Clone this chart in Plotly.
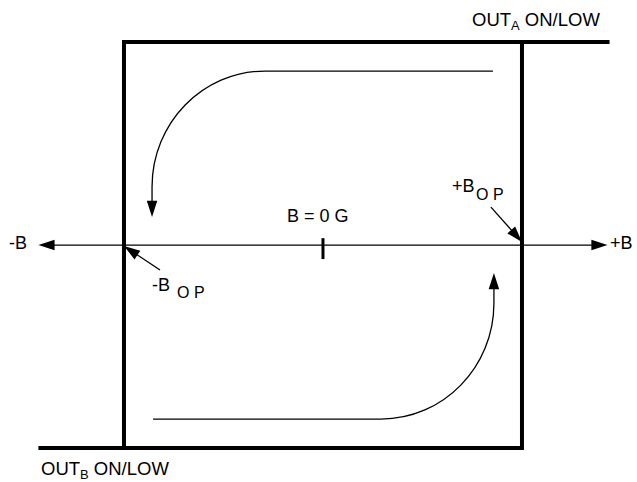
import plotly.graph_objects as go

# hysteresis of a latching hall switch, B in units of B_OP
b_op = [-1.0, 1.0]
b_axis = [-1.43, 1.43]
out_a_x = [-1.0, -1.0, 1.44]
out_a_y = [-1.0, 1.0, 1.0]
out_b_x = [-1.43, 1.0, 1.0]
out_b_y = [-1.0, -1.0, 1.0]

# sweep arrows (upper: decreasing B, lower: increasing B)
sweep_start = [0.854, 0.857]
sweep_bend = [-0.291, 0.286]
sweep_radius = [0.568, 0.571]
sweep_tip = 0.138

K = 0.5523
BLACK = "#000000"
FONT = "Liberation Sans, Arial, sans-serif"

fig = go.Figure()

# output lines
for xs, ys in [(out_a_x, out_a_y), (out_b_x, out_b_y)]:
    fig.add_trace(go.Scatter(x=xs, y=ys, mode="lines",
                             line=dict(color=BLACK, width=4)))

# B axis with arrows both ways
for end in b_axis:
    fig.add_trace(go.Scatter(x=[0, end], y=[0, 0], mode="lines+markers",
                             line=dict(color=BLACK, width=1.3),
                             marker=dict(symbol="arrow", size=17, color=BLACK,
                                         angleref="previous",
                                         line=dict(width=0))))

# B = 0 tick
fig.add_trace(go.Scatter(x=[0, 0], y=[0.034, -0.069], mode="lines",
                         line=dict(color=BLACK, width=3)))

# pointers to the switching points
pointers = [([-0.819, b_op[0]], [-0.123, -0.005]),
            ([0.844, b_op[1]], [0.187, 0.015])]
for xs, ys in pointers:
    fig.add_trace(go.Scatter(x=xs, y=ys, mode="lines+markers",
                             line=dict(color=BLACK, width=1.3),
                             marker=dict(symbol="arrow", size=17, color=BLACK,
                                         angleref="previous",
                                         line=dict(width=0))))

# curved sweep arrows, lower one is the mirror of the upper one
for s in [1, -1]:
    x0, y0 = s * sweep_start[0], s * sweep_start[1]
    cx, cy = s * sweep_bend[0], s * sweep_bend[1]
    rx, ry = s * sweep_radius[0], s * sweep_radius[1]
    ex, ey = cx - rx, cy
    path = (f"M{x0},{y0} L{cx},{y0} "
            f"C{cx - K * rx},{y0} {ex},{cy + K * ry} {ex},{ey} "
            f"L{ex},{s * (sweep_tip + 0.05)}")
    fig.add_shape(type="path", path=path, xref="x", yref="y",
                  line=dict(color=BLACK, width=1.3))
    fig.add_trace(go.Scatter(x=[ex], y=[s * sweep_tip], mode="markers",
                             marker=dict(symbol="arrow", size=17, color=BLACK,
                                         angle=180 if s > 0 else 0,
                                         line=dict(width=0))))

labels = [
    ("OUT<sub>A</sub> ON/LOW", 0.741, 1.105, "left", 18.5),
    ("OUT<sub>B</sub> ON/LOW", -1.427, -1.106, "left", 18.5),
    ("-B", -1.475, 0.01, "right", 18),
    ("+B", 1.43, 0.01, "left", 18),
    ("B = 0 G", -0.025, 0.143, "center", 18),
    ("-B", -0.869, -0.195, "left", 18),
    ("+B", 0.638, 0.291, "left", 18),
]
for text, x, y, anchor, size in labels:
    fig.add_annotation(x=x, y=y, text=text, showarrow=False, xanchor=anchor,
                       yanchor="middle", font=dict(size=size, color=BLACK, family=FONT))
for x, y in [(-0.744, -0.236), (0.759, 0.251)]:
    fig.add_annotation(x=x, y=y, text="O P", showarrow=False, xanchor="left",
                       yanchor="middle", font=dict(size=16, color=BLACK, family=FONT))

fig.update_layout(
    width=637, height=482,
    margin=dict(l=0, r=0, t=0, b=0),
    paper_bgcolor="white", plot_bgcolor="white",
    showlegend=False,
    xaxis=dict(range=[-1.623, 1.578], visible=False, fixedrange=True),
    yaxis=dict(range=[-1.167, 1.207], visible=False, fixedrange=True),
)

fig.write_html("out.html", config={"displayModeBar": False},
               post_script="document.body.style.margin='0';")
